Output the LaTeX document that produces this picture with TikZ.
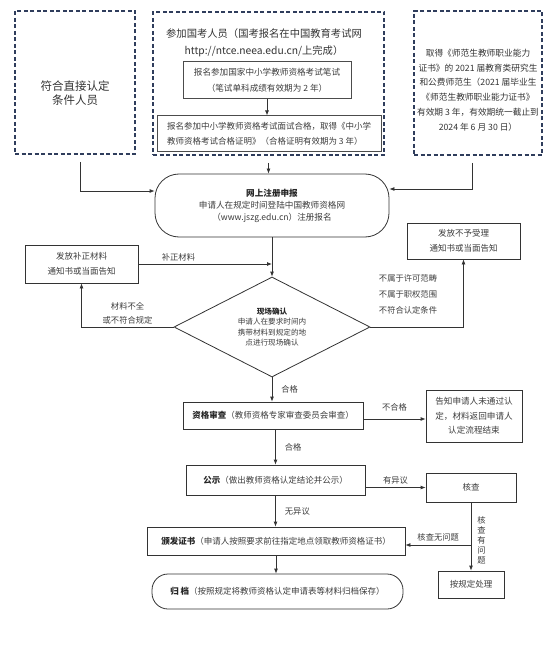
\documentclass[tikz,border=0pt]{standalone}
\usepackage{fontspec}
\setmainfont{Noto Sans CJK SC}
\usetikzlibrary{arrows.meta,shapes.geometric}
\definecolor{navy}{HTML}{2F3D5C}
\definecolor{linegray}{HTML}{333333}
\definecolor{txtgray}{HTML}{3C3C3C}

\begin{document}
\begin{tikzpicture}[x=1pt,y=-1pt,
  dashbox/.style={draw=navy,line width=1.6pt,dash pattern=on 4pt off 2.5pt,inner sep=0pt},
  box/.style={draw=linegray,line width=.8pt,inner sep=0pt,align=center,text=txtgray,font=\fontsize{8.5}{15}\selectfont},
  flow/.style={draw=linegray,line width=.8pt,-{Latex[length=5pt,width=4pt]}},
  lab/.style={text=txtgray,font=\fontsize{8.3}{14}\selectfont,inner sep=2pt,align=center}]
\useasboundingbox (0,0) rectangle (554,647);

% top row
\node[dashbox,minimum width=120pt,minimum height=143pt] (direct) at (75,82.5) {};
\node[lab,text=black!80,font=\fontsize{11.5}{14}\selectfont] (directtxt) at (75,93) {符合直接认定\\条件人员};

\node[dashbox,minimum width=231pt,minimum height=143pt] (natl) at (268.5,83.5) {};
\node[lab,text=black!80,font=\fontsize{10.3}{17}\selectfont] (natltxt) at (264,42.5) {参加国考人员（国考报名在中国教育考试网\\http://ntce.neea.edu.cn/上完成）};
\node[box,draw=black!70,line width=1pt,minimum width=168pt,minimum height=37pt,font=\fontsize{8.6}{16}\selectfont] (written) at (267,80.5) {报名参加国家中小学教师资格考试笔试\\（笔试单科成绩有效期为 2 年）};
\node[box,draw=black!70,line width=1pt,minimum width=224pt,minimum height=36pt,align=left] (interview) at (269,134) {报名参加中小学教师资格考试面试合格，取得《中小学\\教师资格考试合格证明》（合格证明有效期为 3 年）};
\draw[flow] (written.south) -- (written.south |- interview.north);

\node[dashbox,minimum width=128pt,minimum height=144pt] (recent) at (478,83) {};
\node[lab,text=black!80,font=\fontsize{8.7}{14.8}\selectfont] (recenttxt) at (478,90) {取得《师范生教师职业能力\\证书》的 2021 届教育类研究生\\和公费师范生（2021 届毕业生\\《师范生教师职业能力证书》\\有效期 3 年，有效期统一截止到\\2024 年 6 月 30 日）};

% online
\node[box,rounded corners=24pt,minimum width=234pt,minimum height=63pt,font=\fontsize{8.6}{12}\selectfont] (online) at (272,205.5) {\textbf{\color{black!85}网上注册申报}\\申请人在规定时间登陆中国教师资格网\\（www.jszg.edu.cn）注册报名};
\draw[flow] ([xshift=5pt,yshift=-7pt]direct.south) |- ([yshift=14.5pt]online.west);
\draw[flow] ([yshift=-7pt]natl.south) -- (natl.south |- online.north);
\draw[flow] ([xshift=-6pt,yshift=-7pt]recent.south) |- ([yshift=16.5pt]online.east);

% confirm
\node[box,diamond,aspect=2,minimum width=196pt,minimum height=100pt,font=\fontsize{7.6}{10.4}\selectfont] (confirm) at (272,327) {\textbf{\color{black!85}现场确认}\\申请人在要求时间内\\携带材料到规定的地\\点进行现场确认};
\draw[flow] (online.south) -- (confirm.north);

\node[box,minimum width=113pt,minimum height=38pt] (fix) at (81.5,264) {发放补正材料\\通知书或当面告知};
\draw[flow] (fix.east) -- (fix.east -| confirm.north) node[lab,pos=.3,above]{补正材料};
\draw[flow] (confirm.west) -| (fix.south) node[lab,pos=.25,above]{材料不全\\或不符合规定};

\node[box,minimum width=113pt,minimum height=36pt] (reject) at (463.5,241) {发放不予受理\\通知书或当面告知};
\draw[flow] (confirm.east) -| (reject.south);
\node[lab,align=left,font=\fontsize{8.3}{16}\selectfont] (outscope) at (408,294) {不属于许可范畴\\不属于职权范围\\不符合认定条件};

% review
\node[box,minimum width=180pt,minimum height=27pt] (review) at (273,415.5) {\textbf{\color{black!85}资格审查}（教师资格专家审查委员会审查）};
\draw[flow] (confirm.south) -- (confirm.south |- review.north) node[lab,midway,right=7pt]{合格};

\node[box,minimum width=96pt,minimum height=52pt,font=\fontsize{8.6}{14.5}\selectfont] (notify) at (474,416) {告知申请人未通过认\\定，材料返回申请人\\认定流程结束};
\draw[flow] ([yshift=-3.5pt]review.east) -- ([yshift=-3.5pt]review.east -| notify.west) node[lab,midway,above=5pt]{不合格};

% publish
\node[box,minimum width=179pt,minimum height=30pt] (publish) at (275.5,480) {\textbf{\color{black!85}公示}（做出教师资格认定结论并公示）};
\draw[flow] (publish.north |- review.south) -- (publish.north) node[lab,midway,right=7pt]{合格};

\node[box,minimum width=90pt,minimum height=29pt] (check) at (471,487.5) {核查};
\draw[flow] (check.west -| publish.east) -- (check.west) node[lab,midway,above=1pt]{有异议};

% issue
\node[box,minimum width=258pt,minimum height=28pt] (issue) at (276,541) {\textbf{\color{black!85}颁发证书}（申请人按照要求前往指定地点领取教师资格证书）};
\draw[flow] (publish.south) -- (publish.south |- issue.north) node[lab,midway,right=7pt]{无异议};

\node[box,minimum width=66pt,minimum height=27pt] (handle) at (471,584.5) {按规定处理};
\draw[flow] (check.south) -- (handle.north) node[lab,pos=.55,right=4pt,font=\fontsize{8.3}{10}\selectfont]{核\\查\\有\\问\\题};
\draw[flow] ([yshift=-4pt]check.south |- issue.east) -- ([yshift=-4pt]issue.east) node[lab,midway,above=1pt]{核查无问题};

% archive
\node[box,rounded corners=16pt,minimum width=251pt,minimum height=35pt] (archive) at (277.5,591.5) {\textbf{\color{black!85}归 档}（按照规定将教师资格认定申请表等材料归档保存）};
\draw[flow] (issue.south) -- (issue.south |- archive.north);
\end{tikzpicture}
\end{document}
